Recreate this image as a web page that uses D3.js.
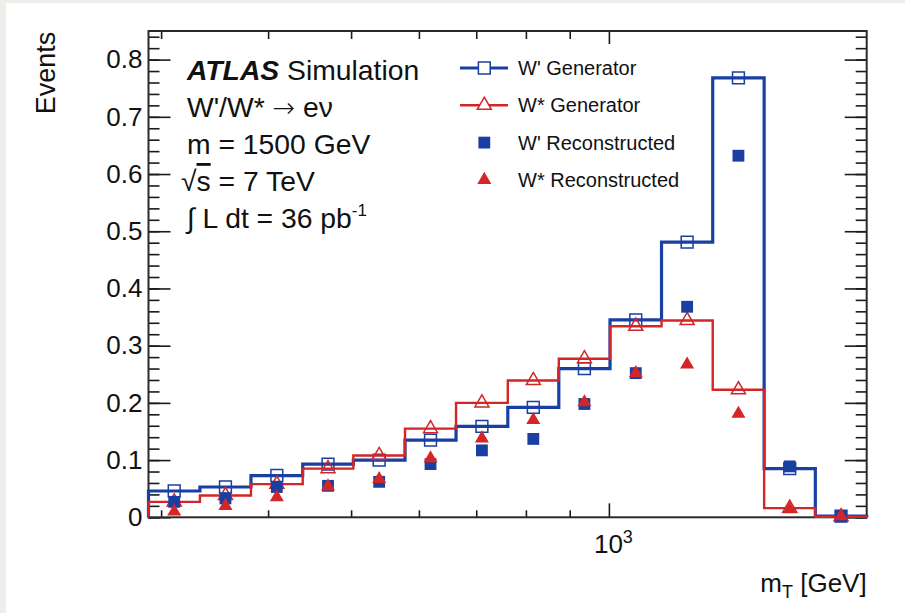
<!DOCTYPE html>
<html lang="en">
<head>
    <meta charset="UTF-8">
    <script src="https://d3js.org/d3.v7.min.js"></script>
    <title>W'/W* transverse mass</title>
    <style>
        body {
            margin: 0;
            background-color: #eeeeea;
            font-family: "Liberation Sans", Arial, sans-serif;
        }
        svg text {
            fill: #111;
        }
        .tick line {
            stroke: #1a1a1a;
            stroke-width: 1.6;
        }
    </style>
</head>
<body>
    <svg id="chart" width="905" height="613"></svg>

    <script>
        // bin edges of the m_T histogram (GeV, log spaced)
        const binEdges = [290, 333, 382, 439, 503, 578, 663, 762, 874, 1003, 1152, 1322, 1518, 1742, 2000];

        // normalised event counts per bin
        const wPrimeGen = [0.046, 0.053, 0.073, 0.093, 0.100, 0.135, 0.159, 0.192, 0.260, 0.345, 0.481, 0.768, 0.085, 0.002];
        const wStarGen = [0.027, 0.038, 0.058, 0.085, 0.108, 0.155, 0.200, 0.239, 0.277, 0.334, 0.344, 0.223, 0.016, 0.001];
        const wPrimeReco = [0.027, 0.033, 0.053, 0.055, 0.062, 0.093, 0.117, 0.137, 0.198, 0.252, 0.368, 0.632, 0.089, 0.002];
        const wStarReco = [0.010, 0.020, 0.035, 0.054, 0.067, 0.103, 0.138, 0.170, 0.201, 0.252, 0.267, 0.181, 0.014, 0.002];

        const yMajor = [0, 0.1, 0.2, 0.3, 0.4, 0.5, 0.6, 0.7, 0.8];
        const yMinor = d3.range(0, 0.85, 0.02);
        const xMajor = [1000];
        const xMinor = [300, 400, 500, 600, 700, 800, 900];

        const legendItems = [
            { label: "W' Generator", color: "#1a3fa3", marker: "square", open: true, line: true },
            { label: "W* Generator", color: "#d42626", marker: "triangle", open: true, line: true },
            { label: "W' Reconstructed", color: "#1a3fa3", marker: "square", open: false, line: false },
            { label: "W* Reconstructed", color: "#d42626", marker: "triangle", open: false, line: false }
        ];

        const blue = "#1a3fa3";
        const red = "#d42626";

        const plotLeft = 148.5, plotRight = 866.7, plotTop = 31, plotBottom = 517.3;

        const svg = d3.select("#chart");
        svg.append("rect")
            .attr("x", 6).attr("y", 3)
            .attr("width", 899).attr("height", 610)
            .attr("fill", "white");

        const x = d3.scaleLog().domain([290, 2000]).range([plotLeft, plotRight]);
        const y = d3.scaleLinear().domain([0, 0.85]).range([plotBottom, plotTop]);

        // axes, ROOT style: ticks pointing inwards on all four sides
        const yAxis = svg.append("g").attr("transform", `translate(${plotLeft},0)`)
            .call(d3.axisLeft(y).tickValues(yMajor).tickSize(-22).tickPadding(6)
                .tickFormat(d => d === 0 ? "0" : d3.format(".1f")(d)));
        yAxis.selectAll("text").attr("font-size", 26).attr("font-family", "Liberation Sans, Arial, sans-serif");
        svg.append("g").attr("transform", `translate(${plotLeft},0)`)
            .call(d3.axisLeft(y).tickValues(yMinor).tickSize(-11).tickFormat(""));
        svg.append("g").attr("transform", `translate(${plotRight},0)`)
            .call(d3.axisRight(y).tickValues(yMajor).tickSize(-22).tickFormat(""));
        svg.append("g").attr("transform", `translate(${plotRight},0)`)
            .call(d3.axisRight(y).tickValues(yMinor).tickSize(-11).tickFormat(""));

        const xAxis = svg.append("g").attr("transform", `translate(0,${plotBottom})`)
            .call(d3.axisBottom(x).tickValues(xMajor).tickSize(-14).tickPadding(17).tickFormat(() => "10"));
        xAxis.selectAll("text")
            .attr("font-size", 26).attr("font-family", "Liberation Sans, Arial, sans-serif")
            .attr("x", 4)
            .append("tspan").attr("font-size", 18).attr("dy", "-0.55em").text("3");
        svg.append("g").attr("transform", `translate(0,${plotBottom})`)
            .call(d3.axisBottom(x).tickValues(xMinor).tickSize(-7).tickFormat(""));
        svg.append("g").attr("transform", `translate(0,${plotTop})`)
            .call(d3.axisTop(x).tickValues(xMajor).tickSize(-13).tickFormat(""));
        svg.append("g").attr("transform", `translate(0,${plotTop})`)
            .call(d3.axisTop(x).tickValues(xMinor).tickSize(-8).tickFormat(""));
        svg.selectAll(".domain").remove();

        svg.append("rect")
            .attr("x", plotLeft).attr("y", plotTop)
            .attr("width", plotRight - plotLeft).attr("height", plotBottom - plotTop)
            .attr("fill", "none").attr("stroke", "#2a2a2a").attr("stroke-width", 2);

        // histogram outlines
        const stepPoints = vals => {
            const pts = [[binEdges[0], 0]];
            vals.forEach((v, i) => {
                pts.push([binEdges[i], v]);
                pts.push([binEdges[i + 1], v]);
            });
            pts.push([binEdges[binEdges.length - 1], 0]);
            return pts;
        };
        const line = d3.line().x(d => x(d[0])).y(d => y(d[1]));
        const centers = binEdges.slice(0, -1).map((e, i) => Math.sqrt(e * binEdges[i + 1]));

        const sym = (type, size) => d3.symbol()
            .type(type === "square" ? d3.symbolSquare : d3.symbolTriangle)
            .size(size)();

        const drawMarkers = (vals, type, color, open) => {
            svg.append("g").selectAll("path")
                .data(vals)
                .enter().append("path")
                .attr("transform", (d, i) => `translate(${x(centers[i])},${y(d)})`)
                .attr("d", sym(type, type === "square" ? 140 : 85))
                .attr("fill", open ? "white" : color)
                .attr("fill-opacity", open ? 0 : 1)
                .attr("stroke", color)
                .attr("stroke-width", open ? 1.5 : 0);
        };

        svg.append("path").attr("d", line(stepPoints(wPrimeGen)))
            .attr("fill", "none").attr("stroke", blue).attr("stroke-width", 3.2);
        drawMarkers(wPrimeGen, "square", blue, true);
        svg.append("path").attr("d", line(stepPoints(wStarGen)))
            .attr("fill", "none").attr("stroke", red).attr("stroke-width", 2.4);
        drawMarkers(wStarGen, "triangle", red, true);
        drawMarkers(wPrimeReco, "square", blue, false);
        drawMarkers(wStarReco, "triangle", red, false);

        // legend
        const legend = svg.append("g");
        legendItems.forEach((it, i) => {
            const ly = 68 + i * 37.3;
            if (it.line) {
                legend.append("line")
                    .attr("x1", 460).attr("x2", 508).attr("y1", ly).attr("y2", ly)
                    .attr("stroke", it.color).attr("stroke-width", it.marker === "square" ? 3 : 2.4);
            }
            legend.append("path")
                .attr("transform", `translate(484.3,${ly})`)
                .attr("d", sym(it.marker, it.marker === "square" ? 140 : 85))
                .attr("fill", it.open ? "white" : it.color)
                .attr("stroke", it.color)
                .attr("stroke-width", it.open ? 1.5 : 0);
            legend.append("text")
                .attr("x", 518).attr("y", ly + 7)
                .attr("font-size", 20)
                .text(it.label);
        });

        // ATLAS label block
        const info = svg.append("g").attr("font-size", 28.3);
        const atlas = info.append("text").attr("x", 187).attr("y", 80);
        atlas.append("tspan").attr("font-weight", "bold").attr("font-style", "italic").text("ATLAS");
        atlas.append("tspan").text(" Simulation");
        const decay = info.append("text").attr("x", 187).attr("y", 117);
        decay.append("tspan").text("W'/W* ");
        decay.append("tspan").attr("font-family", "DejaVu Sans").attr("font-size", 27).attr("font-weight", 300).text("\u2192");
        decay.append("tspan").text(" e\u03bd");
        info.append("text").attr("x", 187).attr("y", 154).text("m = 1500 GeV");
        const roots = info.append("text").attr("x", 181).attr("y", 191);
        roots.append("tspan").text("\u221a");
        roots.append("tspan").attr("text-decoration", "overline").text("s");
        roots.append("tspan").text(" = 7 TeV");
        const lumi = info.append("text").attr("x", 187).attr("y", 228);
        lumi.append("tspan").text("\u222b L dt = 36 pb");
        lumi.append("tspan").attr("font-size", 17).attr("dy", -12).text("-1");

        // axis titles
        svg.append("text")
            .attr("transform", "translate(55,31.7) rotate(-90)")
            .attr("text-anchor", "end")
            .attr("font-size", 27)
            .text("Events");
        const xt = svg.append("text")
            .attr("x", plotRight).attr("y", 592)
            .attr("text-anchor", "end")
            .attr("font-size", 26);
        xt.append("tspan").text("m");
        xt.append("tspan").attr("font-size", 18).attr("dy", 6).text("T");
        xt.append("tspan").attr("dy", -6).text(" [GeV]");
    </script>
</body>
</html>
